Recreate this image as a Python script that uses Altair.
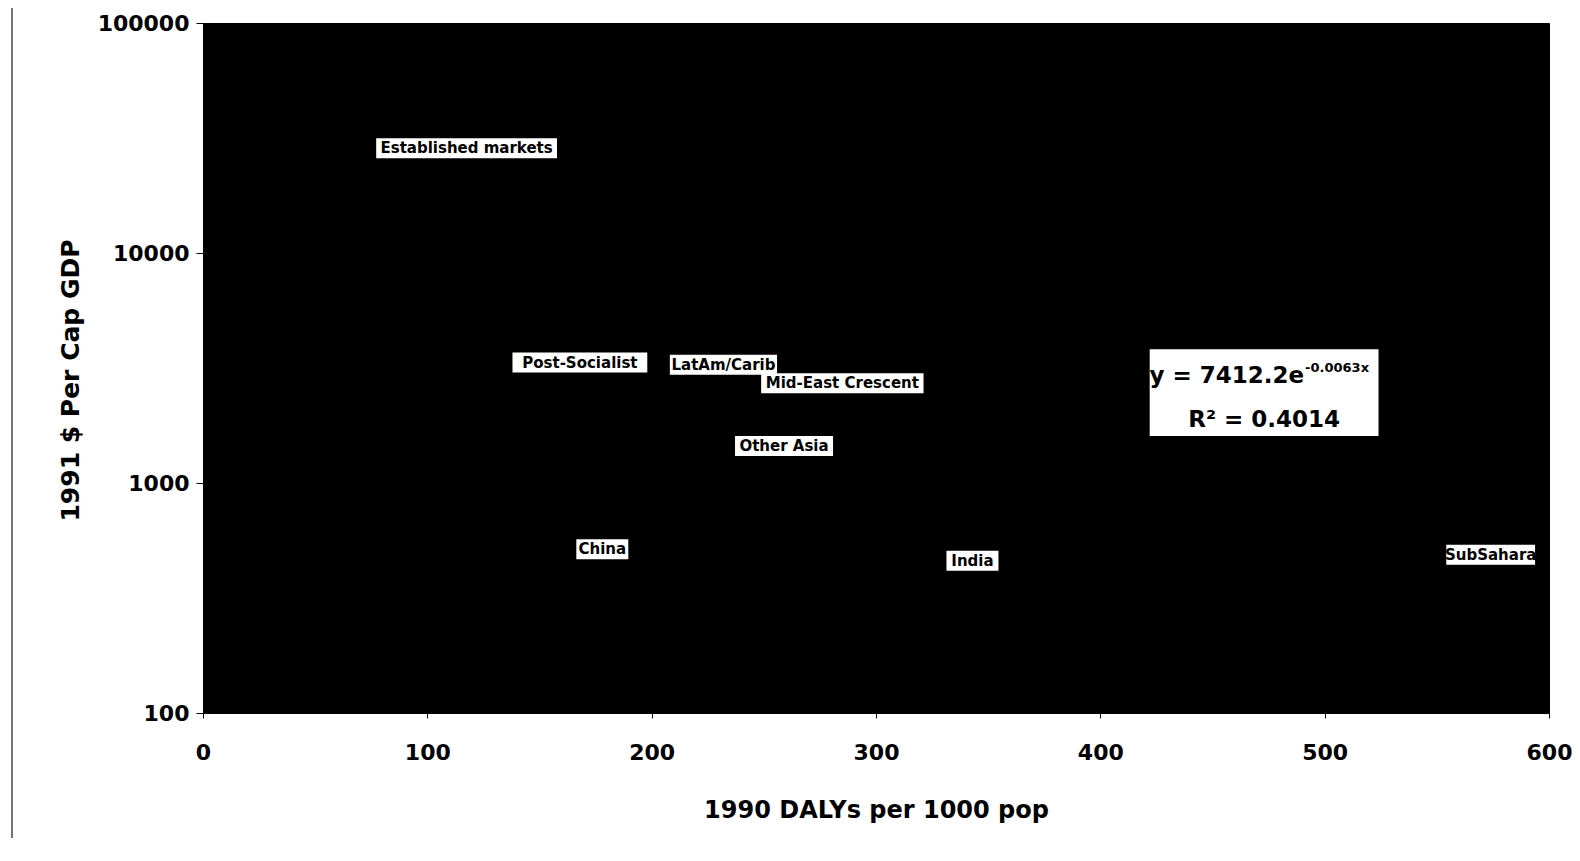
import altair as alt
import pandas as pd

# ---- data ----
REGIONS = ["Established markets", "Post-Socialist", "LatAm/Carib", "Mid-East Crescent",
           "Other Asia", "China", "India", "SubSahara"]
DALYS = [117.5, 168, 232, 285, 259, 178, 343, 574]
GDP = [20500, 2400, 2350, 1950, 1040, 370, 330, 350]

X_TICKS = [0, 100, 200, 300, 400, 500, 600]
Y_TICKS = [100, 1000, 10000, 100000]

EQ_LINE1 = "y = 7412.2e"
EQ_EXP = "-0.0063x"
EQ_LINE2 = "R² = 0.4014"
# equation box, in data coordinates (x: DALYs, y: GDP)
EQ_X = [422, 524]
EQ_Y = [1600, 3820]

W, H = 1346, 690
PX2X = 600 / W  # data units per pixel on x

df = pd.DataFrame({"region": REGIONS, "dalys": DALYS, "gdp": GDP})
eq = pd.DataFrame({"x0": [EQ_X[0]], "x1": [EQ_X[1]], "y0": [EQ_Y[0]], "y1": [EQ_Y[1]],
                   "xc": [(EQ_X[0] + EQ_X[1]) / 2],
                   "l1": [EQ_LINE1], "ex": [EQ_EXP], "l2": [EQ_LINE2]})

xscale = alt.Scale(domain=[0, 600], nice=False)
yscale = alt.Scale(type="log", domain=[100, 100000], nice=False)

xaxis = alt.Axis(values=X_TICKS, grid=False, title="1990 DALYs per 1000 pop",
                 labelFont="DejaVu Sans", labelFontSize=22, labelFontWeight="bold",
                 labelColor="black", tickColor="black", tickSize=5, labelPadding=24,
                 labelFlush=False,
                 titleFont="DejaVu Sans", titleFontSize=24, titleFontWeight="bold",
                 titleColor="black", titleY=97, titleBaseline="middle",
                 domainColor="black")
yaxis = alt.Axis(values=Y_TICKS, format="d", grid=False, title="1991 $ Per Cap GDP",
                 labelFont="DejaVu Sans", labelFontSize=22, labelFontWeight="bold",
                 labelColor="black", tickColor="black", tickSize=7, labelPadding=7,
                 labelFlush=False,
                 titleFont="DejaVu Sans", titleFontSize=25, titleFontWeight="bold",
                 titleColor="black", titleX=-133, titleY=357, titleBaseline="middle",
                 titleAlign="center", domainColor="black")

base = alt.Chart(df)

trend = base.transform_regression("dalys", "gdp", method="exp", extent=[0, 600]).mark_line(
    color="black", strokeWidth=1.5, clip=True
).encode(x=alt.X("dalys:Q", scale=xscale, axis=xaxis), y=alt.Y("gdp:Q", scale=yscale, axis=yaxis))

points = base.mark_point(filled=True, color="black", size=30).encode(
    x=alt.X("dalys:Q", scale=xscale), y=alt.Y("gdp:Q", scale=yscale))

boxes = base.transform_calculate(
    lo=f"datum.dalys - (length(datum.region)*4.6 + 3)*{PX2X}",
    hi=f"datum.dalys + (length(datum.region)*4.6 + 3)*{PX2X}",
).mark_rect(color="white", yOffset=-43, y2Offset=-23).encode(
    x=alt.X("lo:Q", scale=xscale), x2="hi:Q",
    y=alt.Y("gdp:Q", scale=yscale), y2="gdp:Q")

labels = base.mark_text(font="DejaVu Sans", fontSize=15, fontWeight="bold", color="black",
                        align="center", baseline="middle", dy=-33).encode(
    x=alt.X("dalys:Q", scale=xscale), y=alt.Y("gdp:Q", scale=yscale), text="region:N")

eqb = alt.Chart(eq)
eq_box = eqb.mark_rect(color="white").encode(
    x=alt.X("x0:Q", scale=xscale), x2="x1:Q", y=alt.Y("y0:Q", scale=yscale), y2="y1:Q")
eq_l1 = eqb.mark_text(font="DejaVu Sans", fontSize=23, fontWeight="bold", color="black",
                      align="right", baseline="alphabetic", dx=40, dy=34).encode(
    x=alt.X("xc:Q", scale=xscale), y=alt.Y("y1:Q", scale=yscale), text="l1:N")
eq_ex = eqb.mark_text(font="DejaVu Sans", fontSize=13, fontWeight="bold", color="black",
                      align="left", baseline="alphabetic", dx=41, dy=23).encode(
    x=alt.X("xc:Q", scale=xscale), y=alt.Y("y1:Q", scale=yscale), text="ex:N")
eq_l2 = eqb.mark_text(font="DejaVu Sans", fontSize=23, fontWeight="bold", color="black",
                      align="center", baseline="alphabetic", dy=78).encode(
    x=alt.X("xc:Q", scale=xscale), y=alt.Y("y1:Q", scale=yscale), text="l2:N")

border = alt.Chart(pd.DataFrame({"a": [0]})).mark_rule(color="#444", strokeWidth=1.5).encode(
    x=alt.value(-191), y=alt.value(-15), y2=alt.value(815))

chart = alt.layer(trend, points, boxes, labels, eq_box, eq_l1, eq_ex, eq_l2, border).properties(
    width=W, height=H,
    autosize=alt.AutoSizeParams(type="none"),
    padding={"left": 195, "top": 15, "right": 23, "bottom": 125},
    background="white",
).configure_view(fill="black", stroke="black")

chart.save("out.html", embed_options={"renderer": "svg", "actions": False})
